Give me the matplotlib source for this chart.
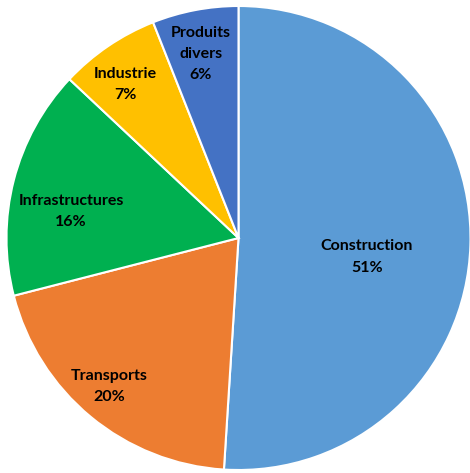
import numpy as np
import matplotlib.pyplot as plt

categories = ['Construction', 'Transports', 'Infrastructures', 'Industrie', 'Produits\ndivers']
values = [51, 20, 16, 7, 6]
colors = ['#5B9BD5', '#ED7D31', '#00B050', '#FFC000', '#4472C4']
# label placement ("best fit" style): distance from centre and angle shift in degrees
label_r = [0.56, 0.85, 0.73, 0.82, 0.81]
label_shift = [-6.6, -1.4, 5.4, 2.2, 0.8]

fig = plt.figure(figsize=(4.70, 4.73), dpi=100)
ax = fig.add_axes([6.5 / 470, 3 / 473, 464 / 470, 464 / 473])

wedges, _ = ax.pie(values, colors=colors, startangle=90, counterclock=False,
                   wedgeprops=dict(edgecolor='white', linewidth=1.5))

for w, cat, v, r, s in zip(wedges, categories, values, label_r, label_shift):
    ang = np.deg2rad((w.theta1 + w.theta2) / 2 + s)
    ax.text(r * np.cos(ang), r * np.sin(ang), f'{cat}\n{v}%',
            ha='center', va='center', fontsize=11.5, fontweight='bold',
            family=['Lato', 'DejaVu Sans'], color='black', linespacing=1.65)

ax.set_xlim(-1, 1)
ax.set_ylim(-1, 1)
ax.set_aspect('equal')
ax.axis('off')

fig.savefig('out.png', dpi=100)
